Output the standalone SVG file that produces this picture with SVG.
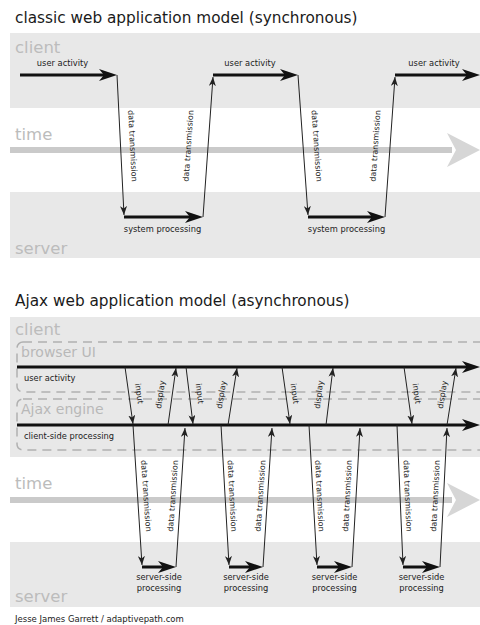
<svg xmlns="http://www.w3.org/2000/svg" width="480" height="625" viewBox="0 0 480 625">
<style>
  text { font-family: "DejaVu Sans", Verdana, sans-serif; }
  .title { font-size: 15.3px; fill: #1a1a1a; }
  .band { fill: #e8e8e8; }
  .lane { font-size: 16.5px; fill: #bcbcbc; }
  .sub { font-size: 14px; fill: #b8b8b8; }
  .lbl { font-size: 8.3px; fill: #222; }
  .vl { font-size: 8px; fill: #222; text-anchor: middle; }
  .mid { text-anchor: middle; }
  .thick { stroke: #111; stroke-width: 3; fill: none; marker-end: url(#ah); }
  .thickline { stroke: #111; stroke-width: 3; fill: none; }
  .thin { stroke: #222; stroke-width: 1; fill: none; marker-end: url(#th); }
  .timebar { stroke: #cacaca; stroke-width: 6; fill: none; }
  .timehead { fill: #d6d6d6; }
  .dash { fill: none; stroke: #b0b0b0; stroke-width: 1.5; stroke-dasharray: 9 6; }
</style>
<defs>
  <marker id="ah" markerUnits="userSpaceOnUse" viewBox="0 0 18 12" markerWidth="18" markerHeight="12" refX="8" refY="6" orient="auto">
    <path d="M0,0 L18,6 L0,12 L5,6 z" fill="#111"/>
  </marker>
  <marker id="th" markerUnits="userSpaceOnUse" viewBox="0 0 9 7" markerWidth="9" markerHeight="7" refX="9" refY="3.5" orient="auto">
    <path d="M0,0 L9,3.5 L0,7 L2.5,3.5 z" fill="#222"/>
  </marker>
</defs>
<rect width="480" height="625" fill="#ffffff"/>

<!-- ===== classic model ===== -->
<g id="title-classic"><text class="title" x="15" y="23">classic web application model (synchronous)</text></g>
<g id="lane-client-classic">
  <rect class="band" x="10" y="33" width="470" height="75"/>
  <text class="lane" x="15" y="53">client</text>
</g>
<g id="lane-time-classic">
  <text class="lane" x="15" y="140">time</text>
  <line class="timebar" x1="10" y1="150" x2="452" y2="150"/>
  <path class="timehead" d="M447,133 L480,150 L447,167 L456,150 z"/>
</g>
<g id="lane-server-classic">
  <rect class="band" x="10" y="192" width="470" height="66"/>
  <text class="lane" x="15" y="254">server</text>
</g>

<g id="connectors-classic">
  <path class="thick" d="M20,75 H107"/>
  <path class="thick" d="M213,75 H288"/>
  <path class="thick" d="M395,75 H470"/>
  <path class="thick" d="M124,217 H193"/>
  <path class="thick" d="M308,217 H375"/>
  <path class="thin" d="M117,75 L124,215"/>
  <path class="thin" d="M203,217 L213,77"/>
  <path class="thin" d="M298,75 L308,215"/>
  <path class="thin" d="M385,217 L395,77"/>
  <text class="lbl mid" x="62.5" y="66">user activity</text>
  <text class="lbl mid" x="250" y="66">user activity</text>
  <text class="lbl mid" x="434" y="66">user activity</text>
  <text class="lbl mid" x="162.5" y="232">system processing</text>
  <text class="lbl mid" x="346.5" y="232">system processing</text>
  <text class="vl" transform="translate(130,146) rotate(87)">data transmission</text>
  <text class="vl" transform="translate(191,146) rotate(-86)">data transmission</text>
  <text class="vl" transform="translate(314,146) rotate(86)">data transmission</text>
  <text class="vl" transform="translate(378,146) rotate(-86)">data transmission</text>
</g>

<!-- ===== Ajax model ===== -->
<g id="title-ajax"><text class="title" x="15" y="306">Ajax web application model (asynchronous)</text></g>
<g id="lane-client-ajax">
  <rect class="band" x="10" y="317" width="470" height="140"/>
  <text class="lane" x="15" y="335">client</text>
</g>
<g id="box-browser-ui">
  <rect class="dash" x="17" y="342" width="500" height="50" rx="6"/>
  <text class="sub" x="21" y="357">browser UI</text>
</g>
<g id="box-ajax-engine">
  <rect class="dash" x="17" y="399" width="500" height="51" rx="6"/>
  <text class="sub" x="21" y="414">Ajax engine</text>
</g>
<g id="lane-time-ajax">
  <text class="lane" x="15" y="489">time</text>
  <line class="timebar" x1="10" y1="500" x2="452" y2="500"/>
  <path class="timehead" d="M447,483 L480,500 L447,517 L456,500 z"/>
</g>
<g id="lane-server-ajax">
  <rect class="band" x="10" y="542" width="470" height="65"/>
  <text class="lane" x="15" y="602">server</text>
</g>

<g id="connectors-ajax">
  <path class="thick" d="M17,367 H470"/>
  <path class="thick" d="M17,425 H470"/>
  <text class="lbl" x="24" y="381">user activity</text>
  <text class="lbl" x="24" y="439">client-side processing</text>
  <!-- input -->
  <path class="thin" d="M125,367 L133,424"/>
  <path class="thin" d="M186,367 L193,424"/>
  <path class="thin" d="M282,367 L290,424"/>
  <path class="thin" d="M404,367 L412,424"/>
  <!-- display -->
  <path class="thin" d="M168,425 L176,368"/>
  <path class="thin" d="M228,425 L237,368"/>
  <path class="thin" d="M326,425 L333,368"/>
  <path class="thin" d="M447,425 L456,368"/>
  <text class="vl" transform="translate(136.5,394) rotate(82)">input</text>
  <text class="vl" transform="translate(197,394) rotate(83)">input</text>
  <text class="vl" transform="translate(292,394) rotate(82)">input</text>
  <text class="vl" transform="translate(414,394) rotate(82)">input</text>
  <text class="vl" transform="translate(163,395) rotate(-82)">display</text>
  <text class="vl" transform="translate(224,395) rotate(-81)">display</text>
  <text class="vl" transform="translate(321.5,395) rotate(-83)">display</text>
  <text class="vl" transform="translate(445,395) rotate(-81)">display</text>
  <!-- data transmission -->
  <path class="thin" d="M133,425 L142,565"/>
  <path class="thin" d="M221,425 L229,565"/>
  <path class="thin" d="M309,425 L317,565"/>
  <path class="thin" d="M397,425 L403,565"/>
  <path class="thin" d="M176,567 L185,428"/>
  <path class="thin" d="M263,567 L272,428"/>
  <path class="thin" d="M352,567 L360,428"/>
  <path class="thin" d="M440,567 L447,428"/>
  <text class="vl" transform="translate(143.5,496) rotate(86)">data transmission</text>
  <text class="vl" transform="translate(229.5,496) rotate(87)">data transmission</text>
  <text class="vl" transform="translate(317,496) rotate(87)">data transmission</text>
  <text class="vl" transform="translate(405,496) rotate(87.5)">data transmission</text>
  <text class="vl" transform="translate(175.5,496) rotate(-86)">data transmission</text>
  <text class="vl" transform="translate(263,496) rotate(-86)">data transmission</text>
  <text class="vl" transform="translate(350,496) rotate(-87)">data transmission</text>
  <text class="vl" transform="translate(438,496) rotate(-87)">data transmission</text>
  <!-- server-side processing -->
  <path class="thick" d="M142,567 H166"/>
  <path class="thick" d="M229,567 H253"/>
  <path class="thick" d="M317,567 H342"/>
  <path class="thick" d="M403,567 H430"/>
  <text class="lbl mid" x="159" y="580">server-side</text>
  <text class="lbl mid" x="159" y="591">processing</text>
  <text class="lbl mid" x="246" y="580">server-side</text>
  <text class="lbl mid" x="246" y="591">processing</text>
  <text class="lbl mid" x="334.5" y="580">server-side</text>
  <text class="lbl mid" x="334.5" y="591">processing</text>
  <text class="lbl mid" x="421.5" y="580">server-side</text>
  <text class="lbl mid" x="421.5" y="591">processing</text>
</g>

<g id="footer"><text class="lbl" style="font-size:8.5px" x="15" y="622">Jesse James Garrett / adaptivepath.com</text></g>
</svg>
